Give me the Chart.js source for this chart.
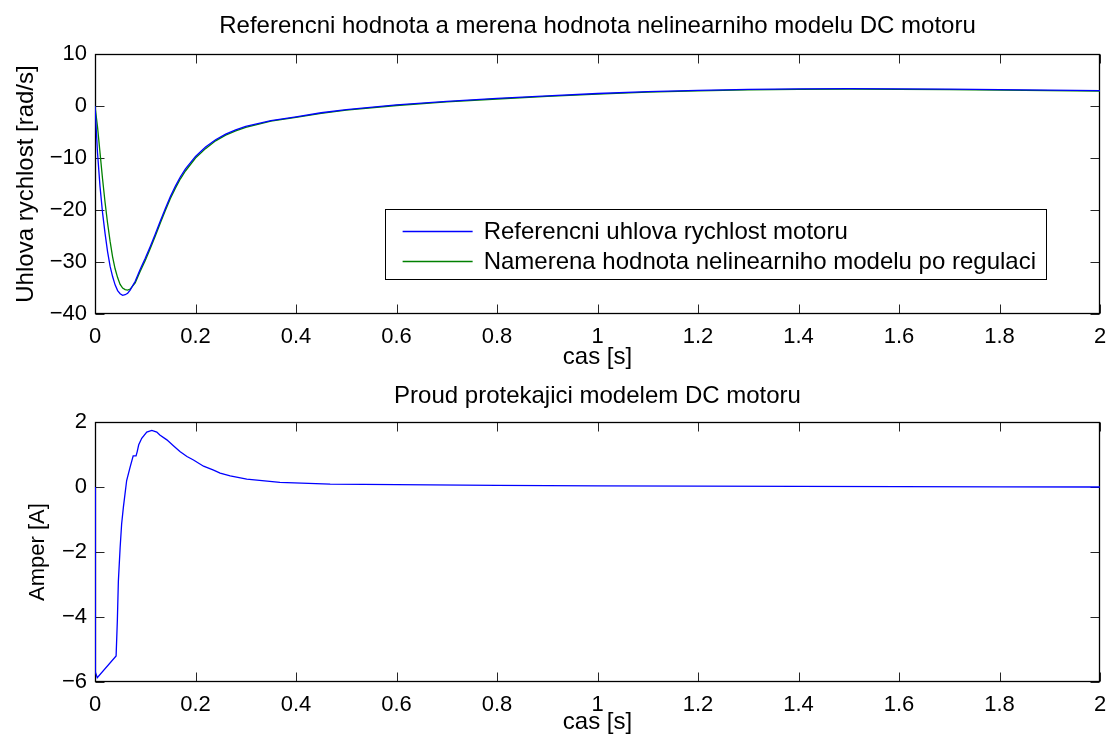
<!DOCTYPE html>
<html>
<head>
<meta charset="utf-8">
<script src="https://cdn.jsdelivr.net/npm/chart.js@4.4.0/dist/chart.umd.min.js"></script>
<style>
  body { margin: 0; background: #fff; }
  #wrap { position: relative; width: 1110px; height: 745px; }
  .box { position: absolute; left: 0; width: 1110px; }
</style>
</head>
<body>
<div id="wrap">
  <div class="box" style="top:0;height:370px"><canvas id="speedChart"></canvas></div>
  <div class="box" style="top:370px;height:375px"><canvas id="currentChart"></canvas></div>
</div>
<script>
// time axis + values
const timeTop = [0, 0.005, 0.01, 0.015, 0.02, 0.025, 0.03, 0.035, 0.04, 0.045, 0.05, 0.055, 0.06, 0.065, 0.07,
  0.08, 0.09, 0.1, 0.11, 0.12, 0.13, 0.14, 0.15, 0.16, 0.17, 0.18,
  0.2, 0.22, 0.24, 0.26, 0.28, 0.3, 0.35, 0.4, 0.45, 0.5,
  0.6, 0.7, 0.8, 0.9, 1.0, 1.1, 1.2, 1.3, 1.4, 1.5, 1.6, 1.7, 1.8, 1.9, 2.0];
const refSpeed = [0, -9, -15.5, -20.5, -24.5, -28, -30.8, -32.8, -34.4, -35.5, -36.1, -36.4, -36.3, -36.0, -35.4,
  -33.7, -31.4, -29.3, -27.0, -24.6, -22.1, -19.7, -17.4, -15.4, -13.6, -12.1,
  -9.7, -7.9, -6.5, -5.4, -4.6, -3.9, -2.8, -2.1, -1.3, -0.7,
  0.2, 0.9, 1.45, 1.95, 2.4, 2.75, 3.0, 3.2, 3.3, 3.35, 3.3, 3.25, 3.15, 3.05, 2.95];
const measSpeed = [0, -4, -9, -14, -18.5, -22.5, -26, -29, -31.3, -33, -34.3, -35, -35.3, -35.4, -35.2,
  -34.0, -31.8, -29.7, -27.4, -25.0, -22.5, -20.1, -17.8, -15.8, -14.0, -12.5,
  -10.0, -8.2, -6.7, -5.6, -4.8, -4.1, -2.9, -2.2, -1.4, -0.8,
  0.1, 0.8, 1.35, 1.85, 2.3, 2.65, 2.9, 3.1, 3.2, 3.25, 3.2, 3.15, 3.05, 2.95, 2.85];

const timeBottom = [0, 0.0008, 0.0045, 0.042, 0.0445, 0.0465, 0.05, 0.053, 0.0565, 0.063,
  0.07, 0.076, 0.0817, 0.084, 0.087, 0.093, 0.103, 0.113, 0.123, 0.129,
  0.143, 0.156, 0.169, 0.183, 0.196, 0.216, 0.236, 0.249, 0.269, 0.302,
  0.368, 0.468, 0.6, 0.8, 1.0, 1.2, 1.4, 1.6, 1.8, 2.0];
const current = [0, -5.7, -5.87, -5.2, -4.1, -2.9, -1.87, -1.14, -0.62, 0.2,
  0.62, 0.96, 0.96, 1.09, 1.3, 1.5, 1.69, 1.74, 1.69, 1.6,
  1.45, 1.27, 1.09, 0.94, 0.83, 0.64, 0.52, 0.43, 0.34, 0.24,
  0.145, 0.09, 0.07, 0.05, 0.035, 0.025, 0.018, 0.012, 0.006, 0.0];

const xTicks = [0, 0.2, 0.4, 0.6, 0.8, 1, 1.2, 1.4, 1.6, 1.8, 2];
const xTickLabels = ['0', '0.2', '0.4', '0.6', '0.8', '1', '1.2', '1.4', '1.6', '1.8', '2'];
const yTicksTop = [-40, -30, -20, -10, 0, 10];
const yTickLabelsTop = ['\u221240', '\u221230', '\u221220', '\u221210', '0', '10'];
const yTicksBottom = [-6, -4, -2, 0, 2];
const yTickLabelsBottom = ['\u22126', '\u22124', '\u22122', '0', '2'];

const FONT = 'Liberation Sans, Arial, Helvetica, sans-serif';

const toXY = (xs, ys) => xs.map((x, i) => ({ x, y: ys[i] }));

// box around the plot with inward ticks on all four sides (matlab look)
const framePlugin = {
  id: 'frame',
  beforeDatasetsDraw(chart) {
    const { ctx, chartArea: a, scales: { x, y } } = chart;
    const L = Math.round(a.left) + 0.5, R = Math.round(a.right) - 0.5;
    const T = Math.round(a.top) + 0.5, B = Math.round(a.bottom) - 0.5;
    ctx.save();
    ctx.strokeStyle = '#262626';
    ctx.lineWidth = 1;
    ctx.beginPath();
    x.ticks.forEach(t => {
      const px = Math.round(x.getPixelForValue(t.value)) + 0.5;
      ctx.moveTo(px, B); ctx.lineTo(px, B - 9);
      ctx.moveTo(px, T); ctx.lineTo(px, T + 9);
    });
    y.ticks.forEach(t => {
      const py = Math.round(y.getPixelForValue(t.value)) + 0.5;
      ctx.moveTo(L, py); ctx.lineTo(L + 9, py);
      ctx.moveTo(R, py); ctx.lineTo(R - 9, py);
    });
    ctx.stroke();
    ctx.strokeStyle = '#000';
    ctx.lineWidth = 1.3;
    ctx.strokeRect(L, T, R - L, B - T);
    ctx.restore();
  }
};

// legend box inside the plot area
const boxLegend = {
  id: 'boxLegend',
  afterDraw(chart, args, opts) {
    if (!opts.show) return;
    const { ctx, chartArea: a } = chart;
    ctx.save();
    ctx.font = '24px ' + FONT;
    const sets = chart.data.datasets;
    const tw = Math.max(...sets.map(d => ctx.measureText(d.label).width));
    const w = 99 + tw + 10;
    const right = a.right - 54;
    const left = right - w;
    const top = a.top + 155;
    const h = 70;
    ctx.fillStyle = '#fff';
    ctx.fillRect(left, top, w, h);
    ctx.strokeStyle = '#000';
    ctx.lineWidth = 1;
    ctx.strokeRect(Math.round(left) + 0.5, top + 0.5, Math.round(w), h);
    sets.forEach((d, i) => {
      const cy = top + 22 + i * 30;
      ctx.strokeStyle = d.borderColor;
      ctx.lineWidth = 1.3;
      ctx.beginPath();
      ctx.moveTo(left + 18, cy + 0.5);
      ctx.lineTo(left + 88, cy + 0.5);
      ctx.stroke();
      ctx.fillStyle = '#000';
      ctx.textBaseline = 'middle';
      ctx.fillText(d.label, left + 99, cy + 1);
    });
    ctx.restore();
  }
};

function makeOptions(c) {
  return {
    responsive: true,
    maintainAspectRatio: false,
    animation: false,
    layout: { padding: { left: 0, right: 10, top: 0, bottom: 0 } },
    elements: { point: { radius: 0 }, line: { tension: 0 } },
    plugins: {
      legend: { display: false },
      tooltip: { enabled: false },
      title: {
        display: true,
        fullSize: false,
        text: c.title,
        color: '#000',
        font: { family: FONT, size: 24, weight: 'normal', lineHeight: 1 },
        padding: { top: 14, bottom: c.areaTop - 38 }
      },
      boxLegend: { show: c.legend }
    },
    scales: {
      x: {
        type: 'linear',
        min: 0, max: 2,
        afterBuildTicks: s => { s.ticks = xTicks.map(v => ({ value: v })); },
        afterFit: s => {
          s.height = c.canvasH - c.areaBottom;
          s.paddingLeft = 0; s.paddingRight = 0;
        },
        grid: { display: false, drawTicks: false, tickLength: 0 },
        border: { display: false },
        ticks: {
          color: '#000',
          padding: 12,
          maxRotation: 0,
          autoSkip: false,
          font: { family: FONT, size: 22, lineHeight: 1 },
          callback: (v, i) => xTickLabels[i]
        },
        title: {
          display: true,
          text: 'cas [s]',
          color: '#000',
          font: { family: FONT, size: 24, lineHeight: 1 },
          padding: { top: 0, bottom: c.xTitlePad }
        }
      },
      y: {
        min: c.yTicks[0], max: c.yTicks[c.yTicks.length - 1],
        afterBuildTicks: s => { s.ticks = c.yTicks.map(v => ({ value: v })); },
        afterFit: s => {
          s.width = 95;
          s.paddingTop = 0; s.paddingBottom = 0;
        },
        grid: { display: false, drawTicks: false, tickLength: 0 },
        border: { display: false },
        ticks: {
          color: '#000',
          padding: 8,
          autoSkip: false,
          font: { family: FONT, size: 22, lineHeight: 1 },
          callback: (v, i) => c.yLabels[i]
        },
        title: {
          display: true,
          text: c.yTitle,
          color: '#000',
          font: { family: FONT, size: c.yTitleSize, lineHeight: 1 },
          padding: { top: c.yTitlePad, bottom: 0 }
        }
      }
    }
  };
}

new Chart(document.getElementById('speedChart'), {
  type: 'line',
  data: {
    datasets: [
      { label: 'Referencni uhlova rychlost motoru', data: toXY(timeTop, refSpeed),
        borderColor: '#0000ff', borderWidth: 1.3, fill: false },
      { label: 'Namerena hodnota nelinearniho modelu po regulaci', data: toXY(timeTop, measSpeed),
        borderColor: '#008000', borderWidth: 1.3, fill: false }
    ]
  },
  options: makeOptions({
    title: 'Referencni hodnota a merena hodnota nelinearniho modelu DC motoru',
    areaTop: 54, areaBottom: 314, canvasH: 370, xTitlePad: 1,
    yTicks: yTicksTop, yLabels: yTickLabelsTop,
    yTitle: 'Uhlova rychlost [rad/s]', yTitleSize: 24, yTitlePad: 14,
    legend: true
  }),
  plugins: [framePlugin, boxLegend]
});

new Chart(document.getElementById('currentChart'), {
  type: 'line',
  data: {
    datasets: [
      { label: 'Proud', data: toXY(timeBottom, current),
        borderColor: '#0000ff', borderWidth: 1.3, fill: false }
    ]
  },
  options: makeOptions({
    title: 'Proud protekajici modelem DC motoru',
    areaTop: 52, areaBottom: 312, canvasH: 375, xTitlePad: 11,
    yTicks: yTicksBottom, yLabels: yTickLabelsBottom,
    yTitle: 'Amper [A]', yTitleSize: 22, yTitlePad: 27,
    legend: false
  }),
  plugins: [framePlugin, boxLegend]
});
</script>
</body>
</html>
